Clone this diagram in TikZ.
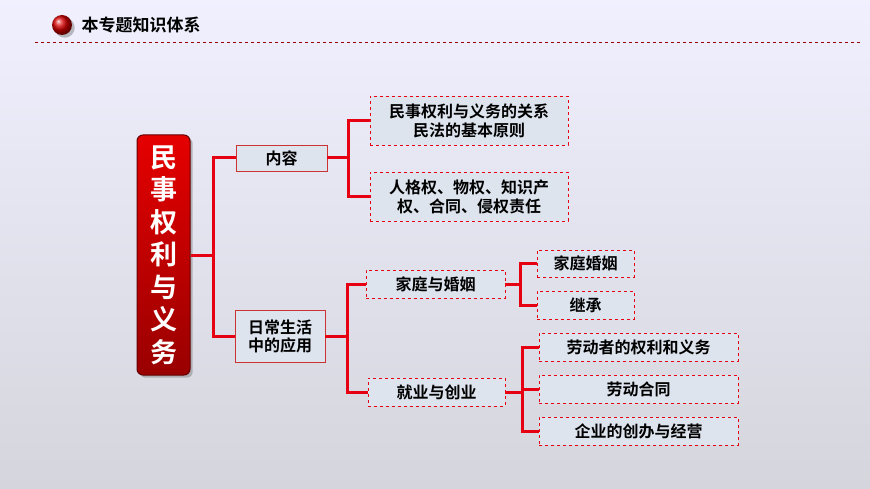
\documentclass[tikz,border=0pt]{standalone}
\usepackage{fontspec}
\setmainfont{Noto Sans CJK SC}
\newfontfamily\cjkb{Noto Sans CJK SC Bold}
\usetikzlibrary{shadows}
\definecolor{lr}{RGB}{230,0,18}
\definecolor{bx}{RGB}{222,228,238}
\tikzset{
 conn/.style={draw=lr,line width=3pt},
 lvone/.style={draw=red!60!gray,fill=bx,line width=0.6pt,font=\cjkb\fontsize{16}{18}\selectfont,align=center,inner sep=0pt},
 lvtwo/.style={draw=lr,dashed,fill=bx,line width=0.5pt,font=\cjkb\fontsize{16}{19}\selectfont,align=center,inner sep=0pt}
}
\begin{document}
\begin{tikzpicture}[x=1pt,y=-1pt]
\shade[top color=white!94!blue,bottom color=blue!10!gray!30!white] (0,0) rectangle (870,489);
\useasboundingbox (0,0) rectangle (870,489);
% header
\shade[ball color=red!85!black,drop shadow] (62,25) circle (10);
\node[anchor=west,font=\cjkb\fontsize{17}{19}\selectfont] (title) at (78,25) {本专题知识体系};
\draw[red!60!black,dashed,line width=0.6pt] (35,42) -- (860,42);
% root
\node[draw=red!40!black,line width=1pt,rounded corners=6pt,top color=red!90!black,bottom color=red!60!black,drop shadow,minimum width=53pt,minimum height=240pt,text=white,font=\cjkb\fontsize{27}{32.5}\selectfont,align=center,inner sep=0pt] (root) at (163.5,255) {民\\事\\权\\利\\与\\义\\务};
% level 1
\node[lvone,minimum width=91pt,minimum height=26pt] (nr) at (281.5,158) {内容};
\node[lvone,minimum width=90pt,minimum height=52pt] (rc) at (280,336) {日常生活\\中的应用};
% level 2
\node[lvtwo,minimum width=198pt,minimum height=49pt] (a1) at (469,120.5) {民事权利与义务的关系\\民法的基本原则};
\node[lvtwo,minimum width=198pt,minimum height=49pt] (a2) at (469,196.5) {人格权、物权、知识产\\权、合同、侵权责任};
\node[lvtwo,minimum width=139pt,minimum height=28pt] (b1) at (435.5,284) {家庭与婚姻};
\node[lvtwo,minimum width=137pt,minimum height=28pt] (b2) at (436.5,392) {就业与创业};
\node[lvtwo,minimum width=97pt,minimum height=27pt] (c1) at (585.5,263.5) {家庭婚姻};
\node[lvtwo,minimum width=97pt,minimum height=28pt] (c2) at (585.5,305) {继承};
\node[lvtwo,minimum width=199pt,minimum height=28pt] (d1) at (638.5,347) {劳动者的权利和义务};
\node[lvtwo,minimum width=199pt,minimum height=28pt] (d2) at (638.5,389) {劳动合同};
\node[lvtwo,minimum width=199pt,minimum height=28pt] (d3) at (638.5,431) {企业的创办与经营};
% connectors
\draw[conn] (root.east) -- (213,255);
\draw[conn] (nr.west) -| (213,255) |- (rc.west);
\draw[conn] (nr.east) -- (348,158);
\draw[conn] (a1.west) -| (348,158) |- (a2.west);
\draw[conn] (rc.east) -- (347,336);
\draw[conn] (b1.west) -| (347,336) |- (b2.west);
\draw[conn] (b1.east) -- (520,284);
\draw[conn] (c1.west) -| (520,284) |- (c2.west);
\draw[conn] (b2.east) -- (522,392);
\draw[conn] (d1.west) -| (522,392) |- (d3.west);
\draw[conn] (522,389) -- (d2.west);
\end{tikzpicture}
\end{document}
